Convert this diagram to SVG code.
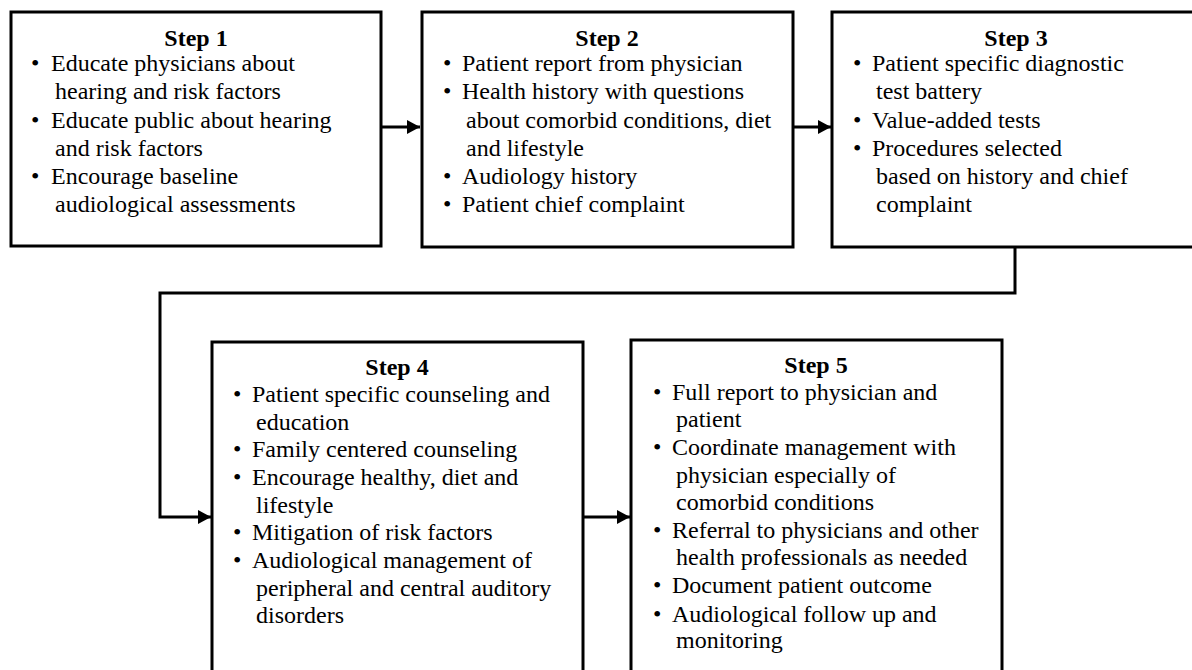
<svg xmlns="http://www.w3.org/2000/svg" width="1192" height="670" viewBox="0 0 1192 670">
<defs>
<style>
.box{fill:#fff;stroke:#000;stroke-width:3}
.h{font-family:"Liberation Serif","Times New Roman",serif;font-size:24px;font-weight:bold;text-anchor:middle;fill:#000}
.t{font-family:"Liberation Serif","Times New Roman",serif;font-size:24px;fill:#000}
.c{fill:none;stroke:#000;stroke-width:3}
</style>
<marker id="ah" markerUnits="userSpaceOnUse" markerWidth="14" markerHeight="14" refX="13" refY="7" orient="auto">
<path d="M0,0 L13,7 L0,14 Z" fill="#000"/>
</marker>
</defs>
<rect width="1192" height="670" fill="#fff"/>
<g id="connectors">
<path class="c" d="M382,127 H420" marker-end="url(#ah)"/>
<path class="c" d="M793,127 H831" marker-end="url(#ah)"/>
<path class="c" d="M1015,247 V293 H160 V517 H211" marker-end="url(#ah)"/>
<path class="c" d="M583,517 H630" marker-end="url(#ah)"/>
</g>
<g id="step1">
<rect class="box" x="11" y="12" width="370" height="234"/>
<text class="h" x="196" y="46">Step 1</text>
<text class="t" x="31" y="71">•</text><text class="t" x="51" y="71">Educate physicians about</text>
<text class="t" x="55" y="99">hearing and risk factors</text>
<text class="t" x="31" y="128">•</text><text class="t" x="51" y="128">Educate public about hearing</text>
<text class="t" x="55" y="156">and risk factors</text>
<text class="t" x="31" y="184">•</text><text class="t" x="51" y="184">Encourage baseline</text>
<text class="t" x="55" y="212">audiological assessments</text>
</g>
<g id="step2">
<rect class="box" x="422" y="12" width="371" height="235"/>
<text class="h" x="607" y="46">Step 2</text>
<text class="t" x="443" y="71">•</text><text class="t" x="462" y="71">Patient report from physician</text>
<text class="t" x="443" y="99">•</text><text class="t" x="462" y="99">Health history with questions</text>
<text class="t" x="466" y="128">about comorbid conditions, diet</text>
<text class="t" x="466" y="156">and lifestyle</text>
<text class="t" x="443" y="184">•</text><text class="t" x="462" y="184">Audiology history</text>
<text class="t" x="443" y="212">•</text><text class="t" x="462" y="212">Patient chief complaint</text>
</g>
<g id="step3">
<rect class="box" x="832" y="12" width="372" height="235"/>
<text class="h" x="1016" y="46">Step 3</text>
<text class="t" x="853" y="71">•</text><text class="t" x="872" y="71">Patient specific diagnostic</text>
<text class="t" x="876" y="99">test battery</text>
<text class="t" x="853" y="128">•</text><text class="t" x="872" y="128">Value-added tests</text>
<text class="t" x="853" y="156">•</text><text class="t" x="872" y="156">Procedures selected</text>
<text class="t" x="876" y="184">based on history and chief</text>
<text class="t" x="876" y="212">complaint</text>
</g>
<g id="step4">
<rect class="box" x="212" y="342" width="371" height="360"/>
<text class="h" x="397" y="375">Step 4</text>
<text class="t" x="233" y="402">•</text><text class="t" x="252" y="402">Patient specific counseling and</text>
<text class="t" x="256" y="430">education</text>
<text class="t" x="233" y="457">•</text><text class="t" x="252" y="457">Family centered counseling</text>
<text class="t" x="233" y="485">•</text><text class="t" x="252" y="485">Encourage healthy, diet and</text>
<text class="t" x="256" y="513">lifestyle</text>
<text class="t" x="233" y="540">•</text><text class="t" x="252" y="540">Mitigation of risk factors</text>
<text class="t" x="233" y="568">•</text><text class="t" x="252" y="568">Audiological management of</text>
<text class="t" x="256" y="596">peripheral and central auditory</text>
<text class="t" x="256" y="623">disorders</text>
</g>
<g id="step5">
<rect class="box" x="631" y="340" width="371" height="362"/>
<text class="h" x="816" y="373">Step 5</text>
<text class="t" x="653" y="400">•</text><text class="t" x="672" y="400">Full report to physician and</text>
<text class="t" x="676" y="427">patient</text>
<text class="t" x="653" y="455">•</text><text class="t" x="672" y="455">Coordinate management with</text>
<text class="t" x="676" y="483">physician especially of</text>
<text class="t" x="676" y="510">comorbid conditions</text>
<text class="t" x="653" y="538">•</text><text class="t" x="672" y="538">Referral to physicians and other</text>
<text class="t" x="676" y="565">health professionals as needed</text>
<text class="t" x="653" y="593">•</text><text class="t" x="672" y="593">Document patient outcome</text>
<text class="t" x="653" y="622">•</text><text class="t" x="672" y="622">Audiological follow up and</text>
<text class="t" x="676" y="648">monitoring</text>
</g>
</svg>
